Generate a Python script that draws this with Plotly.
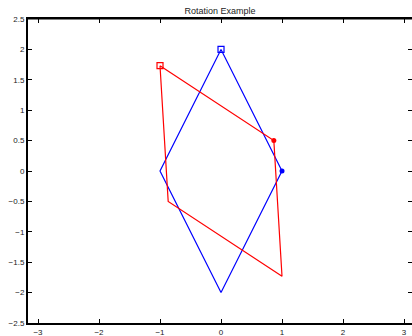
import plotly.graph_objects as go

# Original diamond
orig_x = [0, 1, 0, -1, 0]
orig_y = [2, 0, -2, 0, 2]
# Rotated diamond
rot_x = [-1.0, 0.866, 1.0, -0.866, -1.0]
rot_y = [1.732, 0.5, -1.732, -0.5, 1.732]

x_ticks = [-3, -2, -1, 0, 1, 2, 3]
y_ticks = [-2.5, -2, -1.5, -1, -0.5, 0, 0.5, 1, 1.5, 2, 2.5]
y_tick_text = ["\u22122.5", "\u22122", "\u22121.5", "\u22121", "\u22120.5", "0", "0.5", "1", "1.5", "2", "2.5"]
x_tick_text = ["\u22123", "\u22122", "\u22121", "0", "1", "2", "3"]

fig = go.Figure()
for xs, ys, col in [(orig_x, orig_y, "#0000ff"), (rot_x, rot_y, "#ff0000")]:
    fig.add_trace(go.Scatter(x=xs, y=ys, mode="lines", line=dict(color=col, width=1.2),
                             showlegend=False, hoverinfo="skip"))
    fig.add_trace(go.Scatter(x=[xs[0]], y=[ys[0]], mode="markers",
                             marker=dict(symbol="square-open", size=6, color=col, line=dict(width=1.2)),
                             showlegend=False))
    fig.add_trace(go.Scatter(x=[xs[1]], y=[ys[1]], mode="markers",
                             marker=dict(symbol="circle", size=5, color=col),
                             showlegend=False))

axis_common = dict(showgrid=False, zeroline=False, ticks="inside", ticklen=4,
                   tickcolor="black", linecolor="black", linewidth=2, mirror="ticks",
                   showline=True, automargin=False,
                   tickfont=dict(family="Liberation Sans, Arial", size=8, color="#222"))

fig.update_layout(
    width=412, height=336,
    margin=dict(l=28, r=0, t=19, b=13, autoexpand=False),
    paper_bgcolor="white", plot_bgcolor="white",
    title=dict(text="Rotation Example", x=0.5, xref="paper", xanchor="center",
               y=1 - 11 / 336, yref="container", yanchor="middle",
               font=dict(family="Liberation Sans, Arial", size=9, color="#222")),
    xaxis=dict(range=[-3.164, 3.131], tickvals=x_ticks, ticktext=x_tick_text, **axis_common),
    yaxis=dict(range=[-2.5, 2.5], tickvals=y_ticks, ticktext=y_tick_text, **axis_common),
    shapes=[dict(type="line", xref="paper", yref="paper", x0=0, x1=1, y0=1, y1=1,
                 line=dict(color="black", width=1))],
)

fig.write_html("out.html", config={"displayModeBar": False},
               post_script="document.body.style.margin='0';")
